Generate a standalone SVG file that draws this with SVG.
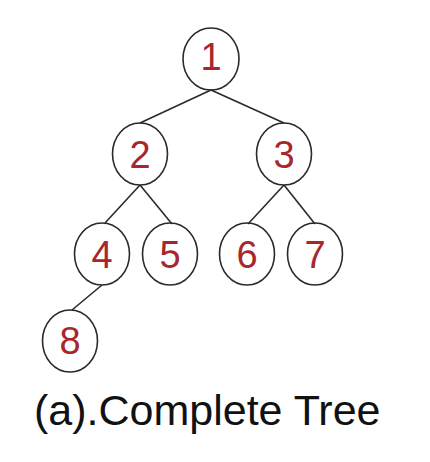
<svg xmlns="http://www.w3.org/2000/svg" width="430" height="462" viewBox="0 0 430 462">
<style>
.n ellipse{fill:none;stroke:#2a2a2a;stroke-width:1.6}
.n text{font-family:"Liberation Sans",Arial,sans-serif;font-size:38px;fill:#a8262e;text-anchor:middle}
.e line{stroke:#2a2a2a;stroke-width:1.6}
.cap{font-family:"Liberation Sans",Arial,sans-serif;font-size:43px;fill:#111}
</style>
<rect width="430" height="462" fill="#fff"/>
<g class="e" id="edges">
<line x1="211" y1="90" x2="140" y2="123"/>
<line x1="211" y1="90" x2="284" y2="123"/>
<line x1="140" y1="185" x2="105" y2="223"/>
<line x1="140" y1="185" x2="172" y2="224"/>
<line x1="284" y1="185" x2="248" y2="224"/>
<line x1="284" y1="185" x2="315" y2="224"/>
<line x1="102" y1="285" x2="72" y2="310"/>
</g>
<g class="n" id="n1"><ellipse cx="211" cy="59" rx="28" ry="31"/><text x="211" y="70">1</text></g>
<g class="n" id="n2"><ellipse cx="140" cy="154" rx="27.5" ry="31"/><text x="140" y="168">2</text></g>
<g class="n" id="n3"><ellipse cx="284" cy="154" rx="27.5" ry="31"/><text x="284" y="168">3</text></g>
<g class="n" id="n4"><ellipse cx="102" cy="254" rx="27.5" ry="31"/><text x="102" y="268">4</text></g>
<g class="n" id="n5"><ellipse cx="170" cy="254" rx="27.5" ry="31"/><text x="170" y="268">5</text></g>
<g class="n" id="n6"><ellipse cx="247" cy="254" rx="27.5" ry="31"/><text x="247" y="268">6</text></g>
<g class="n" id="n7"><ellipse cx="315" cy="254" rx="27.5" ry="31"/><text x="315" y="268">7</text></g>
<g class="n" id="n8"><ellipse cx="70" cy="341" rx="27.5" ry="31"/><text x="70" y="354">8</text></g>
<text class="cap" x="34" y="425">(a).Complete Tree</text>
</svg>
